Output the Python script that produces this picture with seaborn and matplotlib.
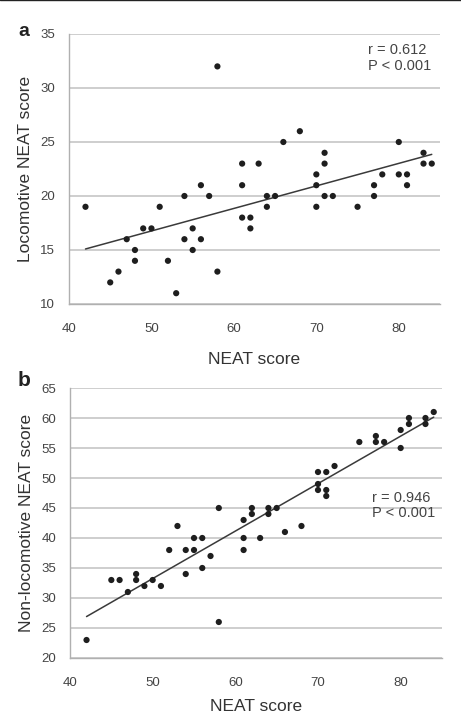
import matplotlib
matplotlib.use("Agg")
import matplotlib.pyplot as plt
from matplotlib.lines import Line2D
import seaborn as sns
import pandas as pd

# ---- data ----
neat_score = [42, 45, 46, 47, 48, 48, 49, 50, 51, 52, 53, 54, 54, 55, 55, 56, 56,
              57, 58, 58, 61, 61, 61, 62, 62, 63, 64, 64, 65, 66, 68, 70, 70, 70,
              71, 71, 71, 72, 75, 77, 77, 78, 80, 80, 81, 81, 83, 83, 84]
locomotive = [19, 12, 13, 16, 15, 14, 17, 17, 19, 14, 11, 20, 16, 17, 15, 21, 16,
              20, 32, 13, 23, 21, 18, 18, 17, 23, 20, 19, 20, 25, 26, 22, 21, 19,
              24, 23, 20, 20, 19, 21, 20, 22, 25, 22, 22, 21, 24, 23, 23]
non_locomotive = [23, 33, 33, 31, 33, 34, 32, 33, 32, 38, 42, 34, 38, 38, 40, 35, 40,
                  37, 26, 45, 38, 40, 43, 44, 45, 40, 44, 45, 45, 41, 42, 48, 49, 51,
                  47, 48, 51, 52, 56, 56, 57, 56, 55, 58, 59, 60, 59, 60, 61]

x_ticks = [40, 50, 60, 70, 80]
ya_ticks = [10, 15, 20, 25, 30, 35]
yb_ticks = [20, 25, 30, 35, 40, 45, 50, 55, 60, 65]

stats_a = "r = 0.612\nP < 0.001"
stats_b = "r = 0.946\nP < 0.001"

df = pd.DataFrame({"NEAT score": neat_score,
                   "Locomotive": locomotive,
                   "NonLocomotive": non_locomotive})

sns.set_theme(style="white")
plt.rcParams["font.family"] = ["Liberation Sans", "DejaVu Sans"]

fig = plt.figure(figsize=(4.61, 7.13), dpi=100)
ax_a = fig.add_axes([69 / 461, 1 - 304 / 713, 371 / 461, 270 / 713])
ax_b = fig.add_axes([70 / 461, 1 - 658 / 713, 372 / 461, 270 / 713])

grid_c = "#c6c6c6"
spine_c = "#b0b0b0"
text_c = "#444444"
dot_c = "#1e1e1e"


def style(ax, ycol, yticks, ylabel, stats, sx, sy, xlabelpad):
    sns.scatterplot(data=df, x="NEAT score", y=ycol, ax=ax, color=dot_c,
                    s=20, edgecolor="none", zorder=3)
    sns.regplot(data=df, x="NEAT score", y=ycol, ax=ax, scatter=False,
                ci=None, color="#3a3a3a", line_kws={"lw": 1.1, "zorder": 2})
    ax.set_xlim(40, 85)
    ax.set_ylim(yticks[0], yticks[-1])
    ax.set_xticks(x_ticks)
    ax.set_yticks(yticks)
    ax.yaxis.grid(True, color=grid_c, lw=1.2)
    ax.set_axisbelow(True)
    for s in ["top", "right"]:
        ax.spines[s].set_visible(False)
    for s in ["left", "bottom"]:
        ax.spines[s].set_color(spine_c)
        ax.spines[s].set_linewidth(1.0)
    ax.tick_params(axis="x", direction="inout", length=6, width=1.0,
                   color=spine_c, labelsize=9.5, labelcolor=text_c, pad=11)
    ax.tick_params(axis="y", direction="out", length=4, width=1.0,
                   color=spine_c, labelsize=9.5, labelcolor=text_c, pad=6)
    ax.set_xlabel("NEAT score", fontsize=12.5, color="#333333", labelpad=xlabelpad)
    ax.set_ylabel(ylabel, fontsize=12.5, color="#333333", labelpad=5)
    ax.text(sx, sy, stats, transform=ax.transAxes, ha="left", va="top",
            fontsize=10.5, color="#444444", linespacing=1.15)


style(ax_a, "Locomotive", ya_ticks, "Locomotive NEAT score", stats_a, 0.806, 0.965, 12)
style(ax_b, "NonLocomotive", yb_ticks, "Non-locomotive NEAT score", stats_b, 0.812, 0.62, 7)

fig.text(18 / 461, 1 - 36 / 713, "a", fontsize=14, fontweight="bold",
         color="#222222", ha="left", va="baseline")
fig.text(18 / 461, 1 - 386 / 713, "b", fontsize=15, fontweight="bold",
         color="#222222", ha="left", va="baseline")

fig.add_artist(Line2D([0, 1], [0.9995, 0.9995], transform=fig.transFigure,
                      color="#222222", lw=1.0))

fig.savefig("out.png", dpi=100)
